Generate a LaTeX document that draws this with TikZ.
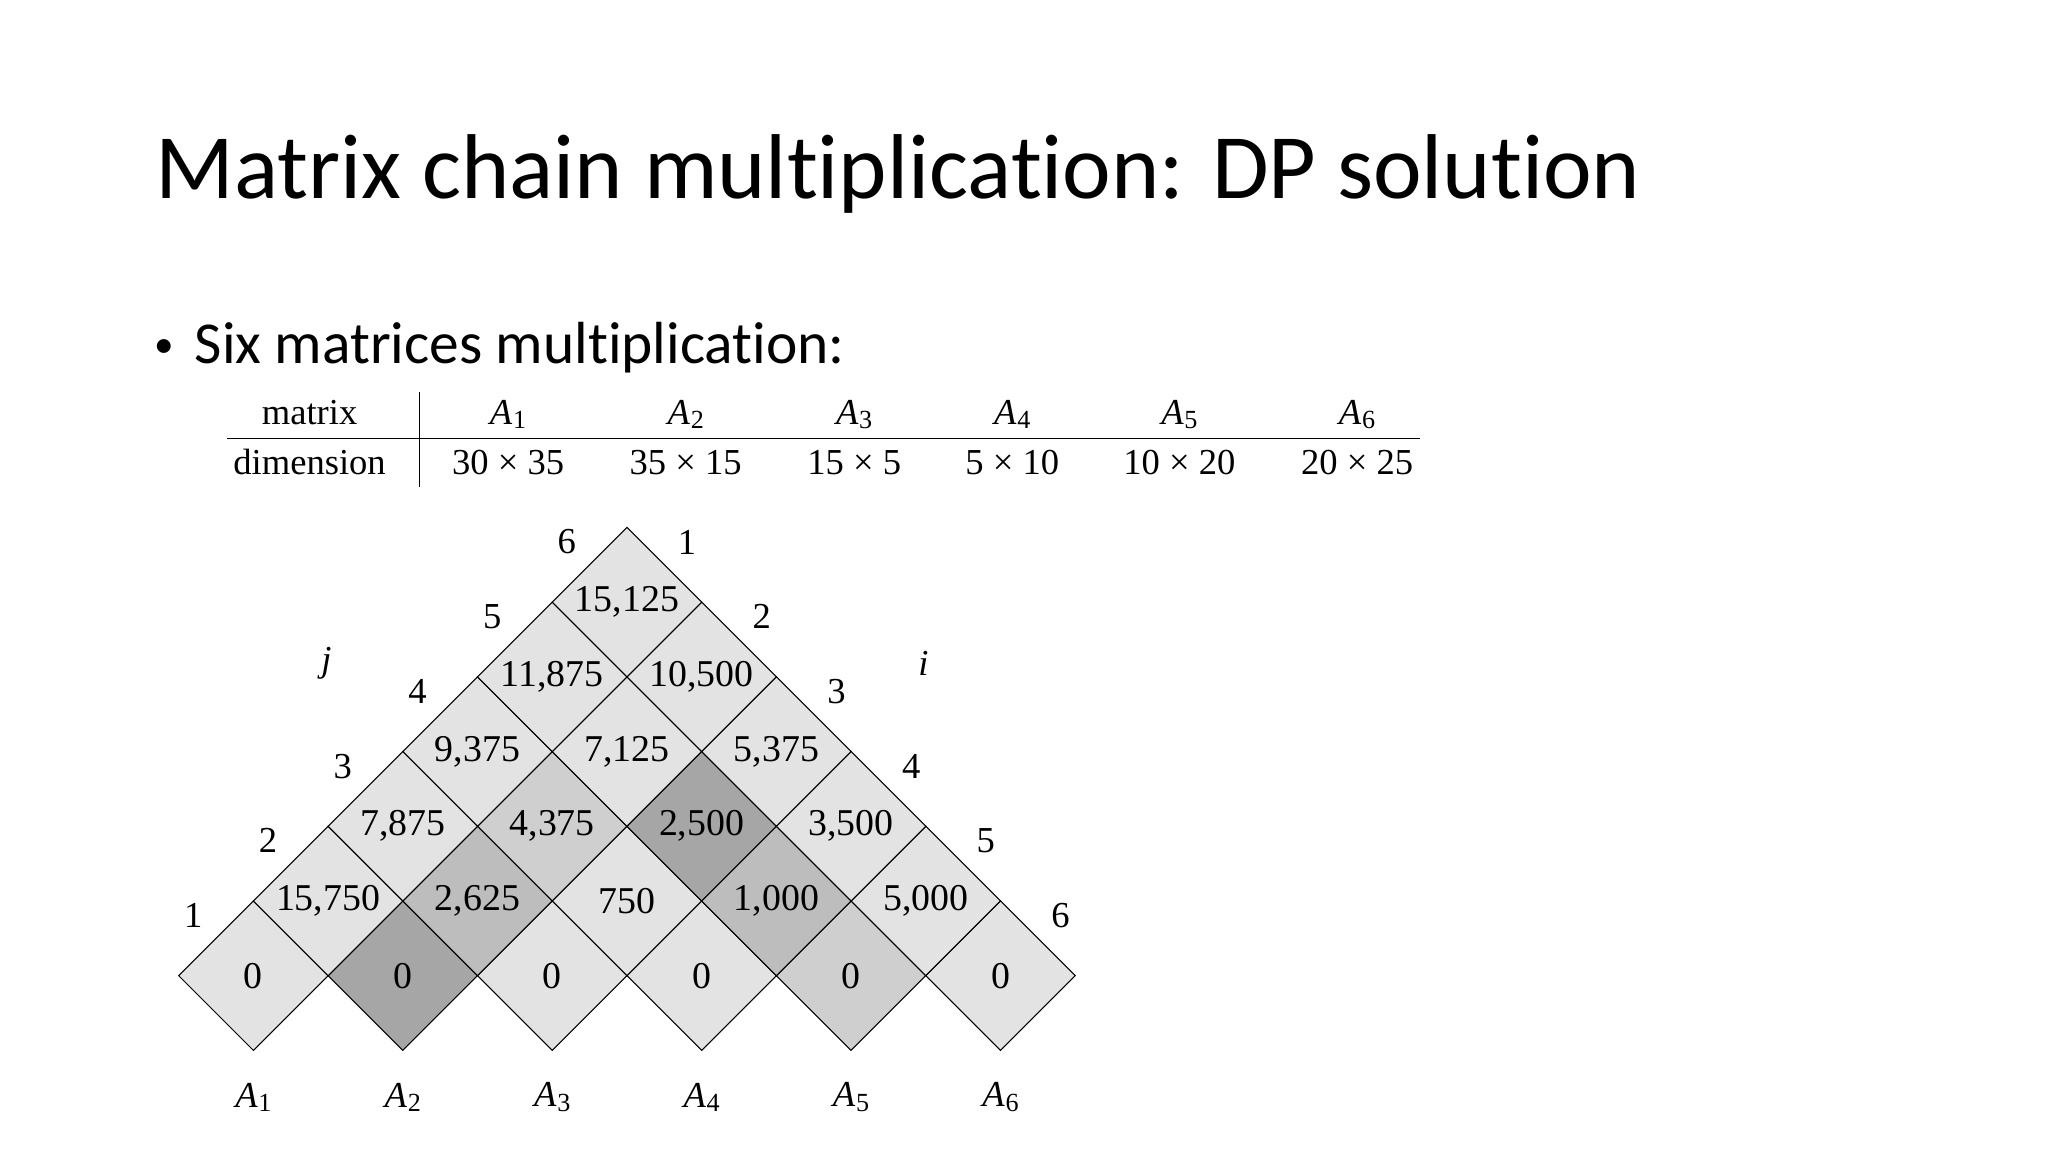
\documentclass[tikz,border=0pt]{standalone}
\usepackage{fontspec}
\setmainfont{Liberation Serif}
\newfontfamily\calfont[Ligatures={NoCommon}]{Carlito}
\newcommand{\mA}[1]{\textit{A}\kern0.5pt\raisebox{-0.25ex}{\fontsize{20}{20}\selectfont #1}}
\begin{document}
\begin{tikzpicture}[x=1pt,y=-1pt,
  num/.style={font=\fontsize{29}{30}\selectfont,inner sep=0pt},
  lab/.style={font=\fontsize{28}{30}\selectfont,inner sep=0pt},
  tab/.style={font=\fontsize{28}{30}\selectfont,inner sep=0pt,anchor=base},
  cellbox/.style={draw=black,line width=0.8pt}]
\useasboundingbox[fill=white] (0,0) rectangle (1568,882);
\node[anchor=base west,inner sep=0pt,font=\calfont\fontsize{70.5}{74}\selectfont] (title) at (119,152) {Matrix chain multiplication: DP solution};
\node[anchor=base west,inner sep=0pt,font=\calfont\fontsize{44}{48}\selectfont] (bulletdot) at (118,276) {\raisebox{0.1ex}{\fontsize{30}{30}\selectfont\textbullet}};
\node[anchor=base west,inner sep=0pt,font=\calfont\fontsize{45.5}{48}\selectfont] (bullet) at (149,278) {Six matrices multiplication:};
% table
\draw[line width=0.8pt] (174,336) -- (1087,336);
\draw[line width=0.8pt] (321,300) -- (321,373);
\node[tab] (h0) at (237,325) {matrix};
\node[tab] (d0) at (237,363) {dimension};
\foreach \x/\k/\d in {389/1/30 \texttimes{} 35,525/2/35 \texttimes{} 15,654/3/15 \texttimes{} 5,775/4/5 \texttimes{} 10,903/5/10 \texttimes{} 20,1039/6/20 \texttimes{} 25}{
  \node[tab] (h\k) at (\x,325) {\mA{\k}};
  \node[tab] (d\k) at (\x,363) {\d};
}
% cells
\def\h{57.2}
\foreach \i/\j/\v/\c in {
 1/1/0/gray!22, 2/2/0/gray!70, 3/3/0/gray!22, 4/4/0/gray!22, 5/5/0/gray!38, 6/6/0/gray!22,
 1/2/{15,750}/gray!22, 2/3/{2,625}/gray!52, 3/4/750/gray!22, 4/5/{1,000}/gray!52, 5/6/{5,000}/gray!22,
 1/3/{7,875}/gray!22, 2/4/{4,375}/gray!38, 3/5/{2,500}/gray!70, 4/6/{3,500}/gray!22,
 1/4/{9,375}/gray!22, 2/5/{7,125}/gray!22, 3/6/{5,375}/gray!22,
 1/5/{11,875}/gray!22, 2/6/{10,500}/gray!22,
 1/6/{15,125}/gray!22}{
  \pgfmathsetmacro\cx{194+(\i+\j-2)*\h}
  \pgfmathsetmacro\cy{747-(\j-\i)*\h}
  \filldraw[cellbox,fill=\c] (\cx-\h,\cy) -- (\cx,\cy-\h) -- (\cx+\h,\cy) -- (\cx,\cy+\h) -- cycle;
  \node[num] (c\i\j) at (\cx,\cy) {\v};
}
% j and i labels
\foreach \k in {1,...,6}{
  \pgfmathsetmacro\jx{148+(\k-1)*57.2}
  \pgfmathsetmacro\jy{701-(\k-1)*57.2}
  \node[lab] (jl\k) at (\jx,\jy) {\k};
  \pgfmathsetmacro\ix{812-(\k-1)*57.2}
  \node[lab] (il\k) at (\ix,\jy) {\the\numexpr7-\k\relax};
  \pgfmathsetmacro\ax{194+(\k-1)*114.4}
  \node[lab] (a\k) at (\ax,840) {\mA{\k}};
}
\node[lab] (jj) at (250,508) {\textit{j}};
\node[lab] (ii) at (707,508) {\textit{i}};
\end{tikzpicture}
\end{document}
